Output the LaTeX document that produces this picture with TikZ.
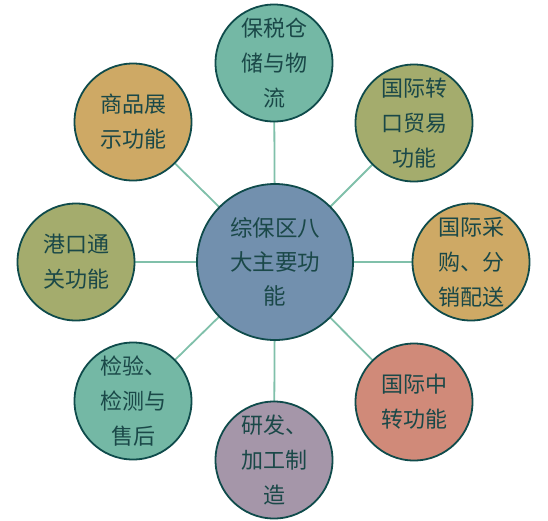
\documentclass[tikz,border=0pt]{standalone}
\usepackage{fontspec}
\usetikzlibrary{backgrounds}
\newfontfamily\cjk{Noto Sans CJK SC}
\definecolor{edgec}{HTML}{0F4B4B}
\definecolor{linkc}{HTML}{80C0AA}
\definecolor{txtc}{HTML}{1A4848}
\definecolor{hubc}{HTML}{7290AE}
\definecolor{tealc}{HTML}{74B8A5}
\definecolor{olivec}{HTML}{A4AC6D}
\definecolor{tanc}{HTML}{CEA965}
\definecolor{salmonc}{HTML}{D08A79}
\definecolor{mauvec}{HTML}{A596A9}
\tikzset{
  bubble/.style={circle, draw=edgec, line width=1.8pt, minimum size=117pt, inner sep=0pt,
    align=center, text=txtc, font=\cjk\fontsize{22pt}{35pt}\selectfont},
  hub/.style={bubble, minimum size=156pt, fill=hubc, font=\cjk\fontsize{22.5pt}{34pt}\selectfont},
  link/.style={draw=linkc, line width=1.8pt}
}
\begin{document}
\begin{tikzpicture}[x=1pt,y=-1pt]
\useasboundingbox (0,0) rectangle (548,520);
\node[hub] (c) at (275,262) {综保区八\\大主要功\\能};
\node[bubble, fill=tealc] (n1) at (274,63) {保税仓\\储与物\\流};
\node[bubble, fill=olivec] (n2) at (414,123) {国际转\\口贸易\\功能};
\node[bubble, fill=tanc] (n3) at (471,262) {国际采\\购、分\\销配送};
\node[bubble, fill=salmonc] (n4) at (414,402) {国际中\\转功能};
\node[bubble, fill=mauvec] (n5) at (274,460) {研发、\\加工制\\造};
\node[bubble, fill=tealc] (n6) at (133,401) {检验、\\检测与\\售后};
\node[bubble, fill=olivec] (n7) at (76,262) {港口通\\关功能};
\node[bubble, fill=tanc] (n8) at (133,122) {商品展\\示功能};
\begin{scope}[on background layer]
\foreach \n in {n1,n2,n3,n4,n5,n6,n7,n8} {
  \draw[link] (c.center) -- (\n.center);
}
\end{scope}
\end{tikzpicture}
\end{document}
